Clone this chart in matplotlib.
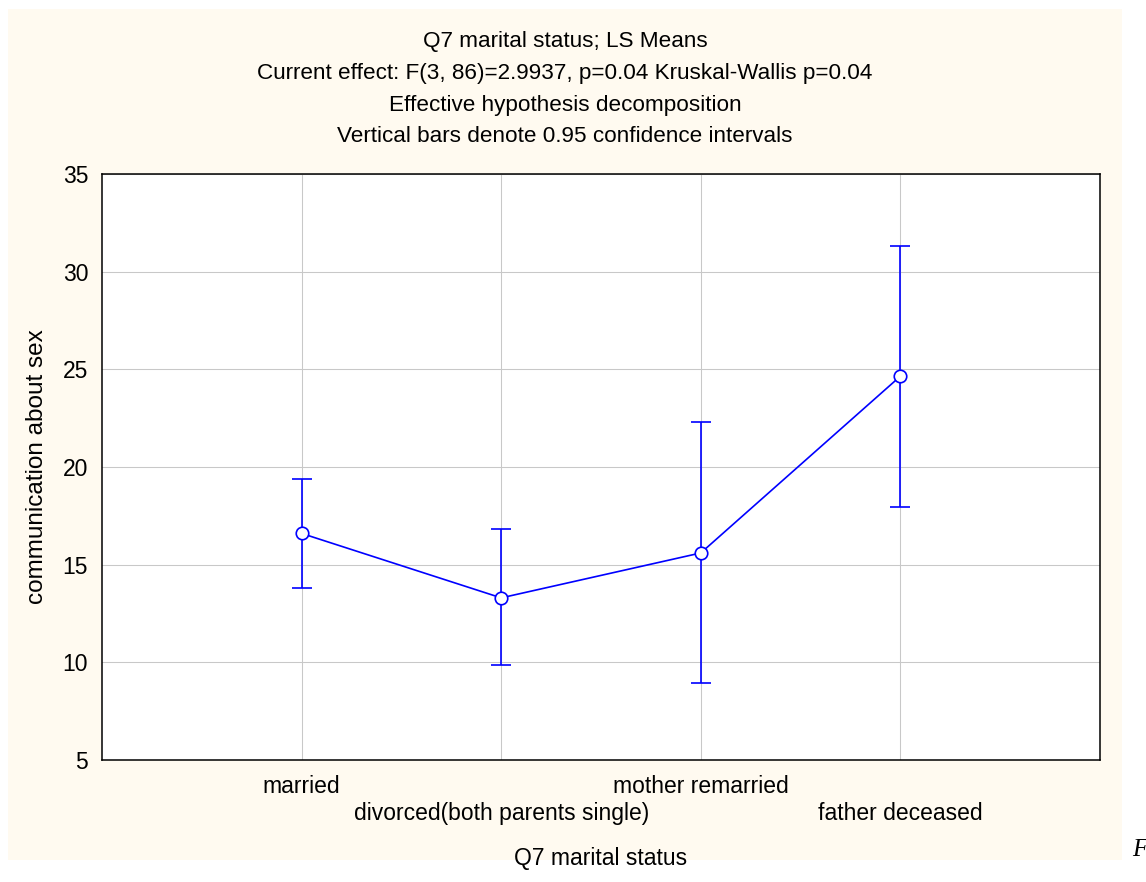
import matplotlib
matplotlib.use("Agg")
import matplotlib.pyplot as plt
from matplotlib.patches import Rectangle

categories = ["married", "divorced(both parents single)", "mother remarried", "father deceased"]
means = [16.6, 13.3, 15.6, 24.65]
ci_low = [13.8, 9.85, 8.95, 17.95]
ci_high = [19.4, 16.85, 22.3, 31.3]
yticks = [5, 10, 15, 20, 25, 30, 35]
title_lines = [
    "Q7 marital status; LS Means",
    "Current effect: F(3, 86)=2.9937, p=0.04 Kruskal-Wallis p=0.04",
    "Effective hypothesis decomposition",
    "Vertical bars denote 0.95 confidence intervals",
]
xlabel = "Q7 marital status"
ylabel = "communication about sex"

plt.rcParams['font.family'] = ['Liberation Sans', 'DejaVu Sans']

W, H = 1146, 882
fig = plt.figure(figsize=(W / 100, H / 100), dpi=100)
fig.patch.set_facecolor("white")

# cream panel
fig.patches.append(Rectangle((8 / W, 1 - 860 / H), 1114 / W, 851 / H,
                             transform=fig.transFigure, facecolor="#FFFAF0",
                             edgecolor="none", zorder=-10))

ax = fig.add_axes([102 / W, 1 - 760 / H, 998 / W, 586 / H])
ax.set_facecolor("white")

x = list(range(len(categories)))
yerr = [[m - l for m, l in zip(means, ci_low)], [h - m for m, h in zip(means, ci_high)]]
ax.errorbar(x, means, yerr=yerr, color="#0000FF", linewidth=1.2, elinewidth=1.2,
            capsize=7.5, capthick=1.2, marker="o", markersize=9,
            markerfacecolor="white", markeredgecolor="#0000FF", markeredgewidth=1.2,
            zorder=3)

ax.set_xlim(-1, 4)
ax.set_ylim(5, 35)
ax.set_yticks(yticks)
ax.set_xticks(x)
ax.set_xticklabels(categories)
ax.grid(True, color="#c8c8c8", linewidth=0.75)
ax.set_axisbelow(True)
for s in ax.spines.values():
    s.set_linewidth(1.1)
    s.set_color("black")

ax.tick_params(axis="both", length=0, labelsize=16.5, colors="black")
ax.tick_params(axis="y", pad=10)
ax.tick_params(axis="x", pad=11)
for i, t in enumerate(ax.xaxis.get_major_ticks()):
    if i % 2 == 1:
        t.set_pad(11 + 19.5)

ax.set_xlabel(xlabel, fontsize=16.5)
ax.xaxis.set_label_coords(0.5, -98 / 586)
ax.xaxis.label.set_va("center")
ax.set_ylabel(ylabel, fontsize=17.5)
ax.yaxis.set_label_coords(-65 / 998, 0.5)
ax.yaxis.label.set_va("center")

for i, line in enumerate(title_lines):
    fig.text(565 / W, 1 - (41 + 32 * i) / H, line, ha="center", va="center", fontsize=16.2)

fig.text(1132 / W, 1 - 850 / H, "F", family=["Liberation Serif"], style="italic",
         fontsize=18, ha="left", va="center")

fig.savefig("out.png", dpi=100, facecolor=fig.get_facecolor())
